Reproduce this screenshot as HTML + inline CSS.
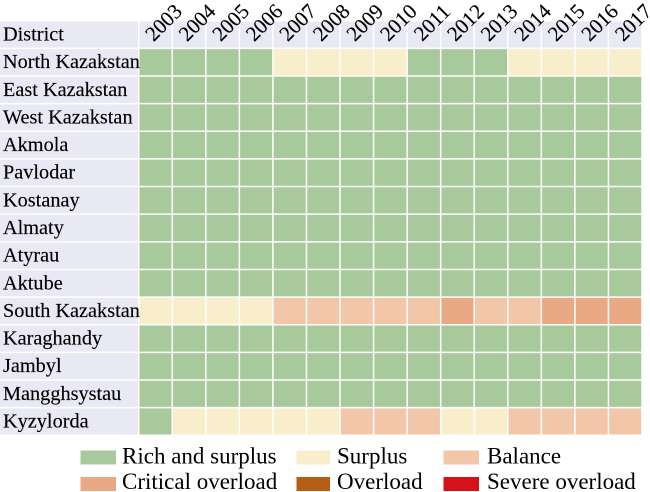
<!DOCTYPE html>
<html>
<head>
<meta charset="utf-8">
<style>
html,body{margin:0;padding:0;background:#fff;}
svg{display:block;}
text{font-family:"Liberation Serif","Times New Roman",serif;fill:#000;}
</style>
</head>
<body>
<svg width="650" height="492" viewBox="0 0 650 492" xmlns="http://www.w3.org/2000/svg">
<rect x="0" y="0" width="650" height="492" fill="#fff"/>
<!-- base fills -->
<rect x="0" y="20.7" width="642" height="27.64" fill="#e9e9f5"/>
<rect x="0" y="48.34" width="138.7" height="386.96" fill="#e9e9f5"/>
<rect x="138.7" y="48.34" width="503.3" height="386.96" fill="#a8c99b"/>
<!-- North Kazakstan -->
<rect x="272.91" y="48.34" width="134.21" height="27.64" fill="#f9eecb"/>
<rect x="507.78" y="48.34" width="134.22" height="27.64" fill="#f9eecb"/>
<!-- South Kazakstan -->
<rect x="138.7" y="297.1" width="134.21" height="27.64" fill="#f9eecb"/>
<rect x="272.91" y="297.1" width="167.77" height="27.64" fill="#f1c6a9"/>
<rect x="440.68" y="297.1" width="33.55" height="27.64" fill="#eaa985"/>
<rect x="474.23" y="297.1" width="67.11" height="27.64" fill="#f1c6a9"/>
<rect x="541.34" y="297.1" width="100.66" height="27.64" fill="#eaa985"/>
<!-- Kyzylorda -->
<rect x="172.25" y="407.66" width="167.77" height="27.64" fill="#f9eecb"/>
<rect x="340.02" y="407.66" width="100.66" height="27.64" fill="#f1c6a9"/>
<rect x="440.68" y="407.66" width="67.1" height="27.64" fill="#f9eecb"/>
<rect x="507.78" y="407.66" width="134.22" height="27.64" fill="#f1c6a9"/>
<!-- white grid lines -->
<path stroke="#fff" stroke-width="1.5" fill="none" d="
M138.7 20.7V435.3 M172.25 20.7V435.3 M205.81 20.7V435.3 M239.36 20.7V435.3 M272.91 20.7V435.3
M306.47 20.7V435.3 M340.02 20.7V435.3 M373.57 20.7V435.3 M407.12 20.7V435.3 M440.68 20.7V435.3
M474.23 20.7V435.3 M507.78 20.7V435.3 M541.34 20.7V435.3 M574.89 20.7V435.3 M608.44 20.7V435.3 M642 20.7V435.3
M0 20.7H642 M0 48.34H642 M0 75.98H642 M0 103.62H642 M0 131.26H642 M0 158.9H642 M0 186.54H642
M0 214.18H642 M0 241.82H642 M0 269.46H642 M0 297.1H642 M0 324.74H642 M0 352.38H642 M0 380.02H642
M0 407.66H642 M0 435.3H642"/>
<!-- row labels -->
<g font-size="20.3" stroke="#000" stroke-width="0.15">
<text x="3" y="40.3">District</text>
<text x="3" y="68.14">North Kazakstan</text>
<text x="3" y="95.78">East Kazakstan</text>
<text x="3" y="123.42">West Kazakstan</text>
<text x="3" y="151.06">Akmola</text>
<text x="3" y="178.7">Pavlodar</text>
<text x="3" y="206.34">Kostanay</text>
<text x="3" y="233.98">Almaty</text>
<text x="3" y="261.62">Atyrau</text>
<text x="3" y="289.26">Aktube</text>
<text x="3" y="316.9">South Kazakstan</text>
<text x="3" y="344.54">Karaghandy</text>
<text x="3" y="372.18">Jambyl</text>
<text x="3" y="399.82">Mangghsystau</text>
<text x="3" y="427.46">Kyzylorda</text>
</g>
<!-- year labels -->
<g font-size="21" text-anchor="middle" stroke="#000" stroke-width="0.15">
<text x="0" y="7" transform="translate(163.48,22.5) rotate(-45)">2003</text>
<text x="0" y="7" transform="translate(197.03,22.5) rotate(-45)">2004</text>
<text x="0" y="7" transform="translate(230.59,22.5) rotate(-45)">2005</text>
<text x="0" y="7" transform="translate(264.14,22.5) rotate(-45)">2006</text>
<text x="0" y="7" transform="translate(297.69,22.5) rotate(-45)">2007</text>
<text x="0" y="7" transform="translate(331.25,22.5) rotate(-45)">2008</text>
<text x="0" y="7" transform="translate(364.8,22.5) rotate(-45)">2009</text>
<text x="0" y="7" transform="translate(398.35,22.5) rotate(-45)">2010</text>
<text x="0" y="7" transform="translate(431.9,22.5) rotate(-45)">2011</text>
<text x="0" y="7" transform="translate(465.46,22.5) rotate(-45)">2012</text>
<text x="0" y="7" transform="translate(499.01,22.5) rotate(-45)">2013</text>
<text x="0" y="7" transform="translate(532.56,22.5) rotate(-45)">2014</text>
<text x="0" y="7" transform="translate(566.12,22.5) rotate(-45)">2015</text>
<text x="0" y="7" transform="translate(599.67,22.5) rotate(-45)">2016</text>
<text x="0" y="7" transform="translate(633.22,22.5) rotate(-45)">2017</text>
</g>
<!-- Legend -->
<g font-size="23">
  <rect x="80.5" y="450.5" width="35.5" height="14" fill="#a8c99b"/>
  <text x="122" y="463.5">Rich and surplus</text>
  <rect x="296.5" y="450.5" width="33.5" height="14" fill="#f9eecb"/>
  <text x="337" y="463.5">Surplus</text>
  <rect x="443.5" y="450.5" width="35.5" height="14" fill="#f1c6a9"/>
  <text x="487" y="463.5">Balance</text>
  <rect x="80.5" y="477" width="35.5" height="14" fill="#eaa985"/>
  <text x="122" y="489">Critical overload</text>
  <rect x="296.5" y="477" width="33.5" height="14" fill="#b45d15"/>
  <text x="337" y="489">Overload</text>
  <rect x="443.5" y="477" width="35.5" height="14" fill="#d5121a"/>
  <text x="487" y="489">Severe overload</text>
</g>
</svg>
</body>
</html>
